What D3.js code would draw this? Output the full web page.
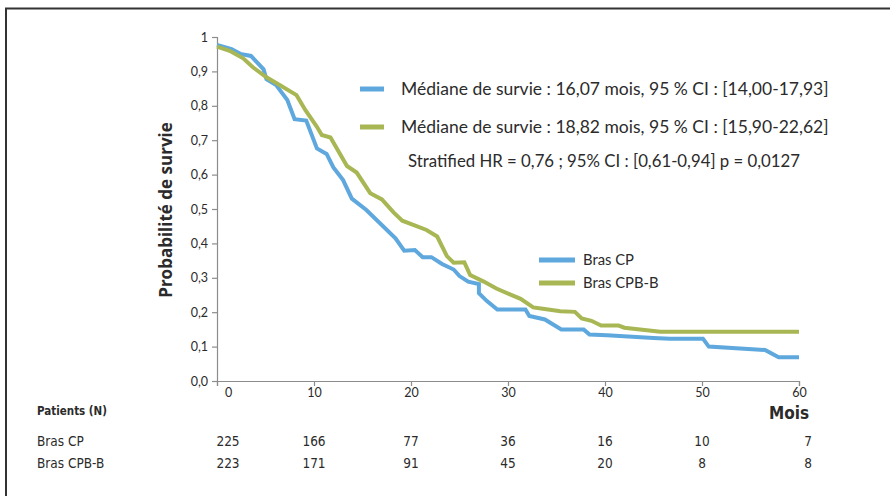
<!DOCTYPE html>
<html>
<head>
<meta charset="utf-8">
<script src="https://cdn.jsdelivr.net/npm/d3@7/dist/d3.min.js"></script>
<style>
  html, body { margin: 0; padding: 0; background: #fff; }
  svg { display: block; font-family: Lato, "Open Sans", sans-serif; }
  .narrow { font-family: "DejaVu Sans Condensed", "Liberation Sans Narrow", sans-serif; font-stretch: condensed; }
</style>
</head>
<body>
<svg id="chart" width="890" height="496"></svg>
<script>
// survival curves, [month, probability]
const brasCP = [
  [0, 0.977], [1.5, 0.965], [2.4, 0.951], [3.5, 0.945], [4.8, 0.906], [5.1, 0.877],
  [6.1, 0.860], [7.25, 0.817], [8.0, 0.761], [9.2, 0.757], [10.3, 0.676], [11.3, 0.660],
  [12.0, 0.621], [13.0, 0.584], [13.9, 0.530], [15.4, 0.497], [18.4, 0.415], [19.3, 0.379],
  [20.4, 0.381], [21.2, 0.360], [22.1, 0.360], [23.2, 0.340], [24.4, 0.324], [25.0, 0.305],
  [25.9, 0.289], [27.0, 0.282], [27.0, 0.255], [27.8, 0.233], [28.9, 0.208], [31.8, 0.208],
  [32.2, 0.189], [33.8, 0.179], [35.5, 0.150], [37.8, 0.150], [38.4, 0.135], [40.2, 0.133],
  [45.0, 0.125], [46.7, 0.123], [50.1, 0.123], [50.7, 0.100], [56.5, 0.090], [57.9, 0.069],
  [60, 0.069]
];
const brasCPBB = [
  [0, 0.972], [1.3, 0.960], [2.7, 0.938], [3.7, 0.912], [5.1, 0.883], [6.5, 0.860],
  [8.2, 0.831], [9.1, 0.788], [10.3, 0.739], [10.8, 0.715], [11.7, 0.708], [13.4, 0.625],
  [14.4, 0.606], [15.8, 0.546], [17.0, 0.528], [18.2, 0.490], [19.1, 0.466], [20.3, 0.453],
  [21.6, 0.439], [22.7, 0.420], [23.7, 0.363], [24.4, 0.344], [25.5, 0.345], [26.1, 0.308],
  [27.5, 0.289], [28.8, 0.269], [30.2, 0.252], [31.3, 0.239], [32.6, 0.214], [33.6, 0.210],
  [35.4, 0.203], [36.9, 0.201], [37.6, 0.182], [38.6, 0.175], [39.6, 0.161], [41.4, 0.161],
  [42.0, 0.155], [45.7, 0.143], [60, 0.143]
];

const xTicks = [0, 10, 20, 30, 40, 50, 60];
const yTicks = [0, 0.1, 0.2, 0.3, 0.4, 0.5, 0.6, 0.7, 0.8, 0.9, 1];

const atRiskLabels = ['Bras CP', 'Bras CPB-B'];
const atRiskCP = [225, 166, 77, 36, 16, 10, 7];
const atRiskCPBB = [223, 171, 91, 45, 20, 8, 8];

const medianLabels = [
  'Médiane de survie : 16,07 mois, 95 % CI : [14,00-17,93]',
  'Médiane de survie : 18,82 mois, 95 % CI : [15,90-22,62]'
];
const hrLabel = 'Stratified HR = 0,76 ; 95% CI : [0,61-0,94] p = 0,0127';

const BLUE = '#5fa8de', GREEN = '#a8b754', AXIS = '#8c8c8c', TXT = '#2b2b2b';

const svg = d3.select('#chart');

// frame
svg.append('path')
  .attr('d', 'M6 500 V8.5 H900')
  .attr('fill', 'none').attr('stroke', '#333').attr('stroke-width', 2);

const x = d3.scaleLinear().domain([0, 60]).range([217, 799]);
const y = d3.scaleLinear().domain([0, 1]).range([381, 37]);

const fmt = d => d === 1 ? '1' : d.toFixed(1).replace('.', ',');

// y axis
const gy = svg.append('g').attr('transform', `translate(${x(0)},0)`)
  .call(d3.axisLeft(y).tickValues(yTicks).tickFormat(fmt).tickSizeOuter(0).tickSize(5).tickPadding(4));
// x axis
const gx = svg.append('g').attr('transform', `translate(0,${y(0)})`)
  .call(d3.axisBottom(x).tickValues(xTicks).tickSizeOuter(0).tickSize(5).tickPadding(2));

[gx, gy].forEach(g => {
  g.select('.domain').attr('stroke', AXIS).attr('stroke-width', 1.2);
  g.selectAll('.tick line').attr('stroke', AXIS).attr('stroke-width', 1.2);
  g.selectAll('.tick text').attr('fill', TXT).attr('font-size', 12.5)
    .attr('font-family', 'Lato, sans-serif');
});
gx.selectAll('.tick text').filter(d => d === 0).attr('dx', 11);

// y title
svg.append('text')
  .attr('transform', 'translate(172,210) rotate(-90)')
  .attr('text-anchor', 'middle')
  .attr('font-family', '"Open Sans", sans-serif')
  .attr('font-weight', 'bold').attr('font-size', 17).attr('fill', TXT)
  .text('Probabilité de survie');

// curves
const line = d3.line().x(d => x(d[0])).y(d => y(d[1]));
svg.append('path').datum(brasCP)
  .attr('d', line).attr('fill', 'none').attr('stroke', BLUE)
  .attr('stroke-width', 4).attr('stroke-linejoin', 'miter');
svg.append('path').datum(brasCPBB)
  .attr('d', line).attr('fill', 'none').attr('stroke', GREEN)
  .attr('stroke-width', 4).attr('stroke-linejoin', 'miter');

// median legend
[BLUE, GREEN].forEach((c, i) => {
  const cy = 89 + i * 38;
  svg.append('line').attr('x1', 360).attr('x2', 384).attr('y1', cy).attr('y2', cy)
    .attr('stroke', c).attr('stroke-width', 5);
  svg.append('text').attr('x', 401).attr('y', cy).attr('dy', '0.35em')
    .attr('font-size', 17.5).attr('fill', TXT).text(medianLabels[i]);
});
svg.append('text').attr('x', 408).attr('y', 161).attr('dy', '0.35em')
  .attr('font-size', 16.8).attr('fill', TXT).text(hrLabel);

// series legend
[BLUE, GREEN].forEach((c, i) => {
  const cy = 260 + i * 23;
  svg.append('line').attr('x1', 539).attr('x2', 575).attr('y1', cy).attr('y2', cy)
    .attr('stroke', c).attr('stroke-width', 5);
  svg.append('text').attr('x', 583).attr('y', cy).attr('dy', '0.35em')
    .attr('font-size', 14.8).attr('fill', TXT).text(atRiskLabels[i]);
});

// at-risk table
svg.append('text').attr('class', 'narrow').attr('x', 37).attr('y', 411).attr('dy', '0.35em')
  .attr('font-size', 11.5).attr('font-weight', 'bold').attr('fill', TXT).text('Patients (N)');
svg.append('text').attr('class', 'narrow').attr('x', 809).attr('y', 413).attr('dy', '0.35em')
  .attr('text-anchor', 'end')
  .attr('font-size', 17).attr('font-weight', 'bold').attr('fill', TXT).text('Mois');

const colX = (t, i) => x(t) + (i === 0 ? 11 : i === xTicks.length - 1 ? 9 : 0);
[atRiskCP, atRiskCPBB].forEach((row, r) => {
  const cy = 441 + r * 22;
  svg.append('text').attr('class', 'narrow').attr('x', 37).attr('y', cy).attr('dy', '0.35em')
    .attr('font-size', 13.5).attr('fill', TXT).text(atRiskLabels[r]);
  svg.append('g').selectAll('text').data(row).join('text')
    .attr('class', 'narrow')
    .attr('x', (d, i) => colX(xTicks[i], i)).attr('y', cy).attr('dy', '0.35em')
    .attr('text-anchor', 'middle').attr('font-size', 13.5).attr('fill', TXT)
    .text(d => d);
});
</script>
</body>
</html>
